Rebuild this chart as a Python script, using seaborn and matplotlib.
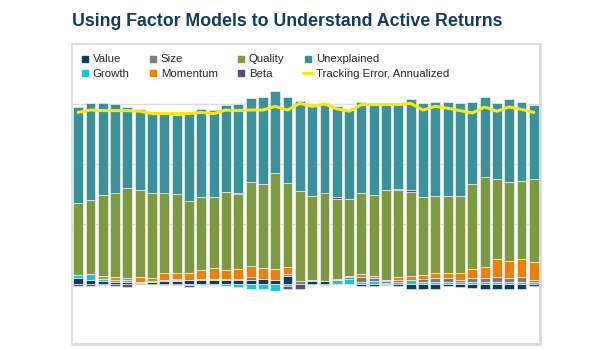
import numpy as np
import pandas as pd
import matplotlib
matplotlib.use("Agg")
import matplotlib.pyplot as plt
from matplotlib.lines import Line2D
import seaborn as sns

# Contribution of each factor to active risk, one value per period
periods = list(range(38))
value = [0.10, 0.07, 0.05, 0.035, 0.04, 0.02, 0.03, 0.045, 0.05, 0.06,
         0.06, 0.06, 0.06, 0.06, 0.07, 0.08, 0.07, 0.14, 0.00, 0.05,
         0.05, 0.00, 0.00, -0.04, -0.025, -0.01, -0.04, -0.08, -0.09, -0.08,
         -0.04, -0.055, -0.065, -0.09, -0.08, -0.08, -0.08, -0.03]
growth = [0.055, 0.09, 0.035, 0.04, 0.035, 0.02, 0.02, 0.01, 0.01, -0.02,
          -0.02, -0.015, -0.03, -0.055, -0.08, -0.09, -0.12, -0.03, 0.00, 0.025,
          0.00, 0.06, 0.08, 0.035, 0.045, 0.02, 0.035, 0.07, 0.03, 0.035,
          0.035, 0.035, 0.035, 0.035, 0.035, 0.035, 0.035, 0.03]
size = [0.0, 0.0, 0.0, 0.0, 0.0, 0.0, 0.0, 0.02, 0.02, 0.01,
        0.02, 0.03, 0.03, 0.02, 0.055, 0.0, 0.0, 0.02, 0.055, 0.0,
        0.0, 0.0, 0.035, 0.09, 0.055, 0.03, 0.04, 0.0, 0.055, 0.065,
        0.065, 0.04, 0.065, 0.065, 0.09, 0.065, 0.09, 0.045]
momentum = [0.0, 0.0, 0.045, 0.045, 0.03, 0.07, 0.05, 0.11, 0.11, 0.12,
            0.155, 0.18, 0.15, 0.165, 0.18, 0.19, 0.18, 0.12, 0.0, 0.0,
            0.0, 0.02, 0.02, 0.045, 0.04, 0.02, 0.045, 0.07, 0.07, 0.08,
            0.08, 0.11, 0.15, 0.18, 0.29, 0.29, 0.29, 0.30]
quality = [1.19, 1.24, 1.36, 1.40, 1.50, 1.45, 1.42, 1.33, 1.31, 1.20,
           1.21, 1.18, 1.30, 1.25, 1.39, 1.40, 1.60, 1.40, 1.50, 1.40,
           1.47, 1.34, 1.28, 1.35, 1.34, 1.50, 1.44, 1.40, 1.29, 1.29,
           1.29, 1.29, 1.41, 1.50, 1.34, 1.31, 1.30, 1.37]
beta = [-0.03, -0.03, -0.01, -0.03, -0.05, 0.0, 0.0, -0.02, -0.02, -0.03,
        0.0, 0.0, 0.0, 0.02, 0.0, 0.0, 0.0, -0.06, -0.08, 0.0,
        -0.02, 0.03, 0.0, 0.0, 0.0, 0.0, 0.03, 0.03, 0.0, 0.0,
        0.0, 0.0, 0.0, 0.0, 0.0, 0.0, 0.0, 0.0]
unexplained = [1.60, 1.61, 1.52, 1.48, 1.35, 1.36, 1.34, 1.34, 1.32, 1.46,
               1.48, 1.45, 1.45, 1.49, 1.40, 1.44, 1.37, 1.44, 1.50, 1.53,
               1.49, 1.51, 1.48, 1.52, 1.54, 1.44, 1.43, 1.51, 1.57, 1.57,
               1.56, 1.54, 1.38, 1.34, 1.26, 1.38, 1.32, 1.24]
tracking_error = [2.86, 2.90, 2.89, 2.89, 2.89, 2.88, 2.84, 2.84, 2.84, 2.84,
                  2.86, 2.84, 2.90, 2.89, 2.90, 2.90, 2.96, 2.90, 3.01, 2.96,
                  3.00, 2.92, 2.88, 2.99, 2.99, 2.99, 2.99, 3.01, 2.90, 2.96,
                  2.93, 2.89, 2.85, 2.95, 2.88, 2.95, 2.91, 2.86]

factor_names = ["Value", "Growth", "Size", "Momentum", "Quality", "Beta", "Unexplained"]
factor_values = [value, growth, size, momentum, quality, beta, unexplained]
factor_colors = ["#0c3c5e", "#1cc2df", "#7b7b7b", "#e8800a", "#7d9a42", "#5b4a7e", "#3a9199"]
te_color = "#fde60c"

sns.set_style("white")
plt.rcParams["font.family"] = ["Liberation Sans", "DejaVu Sans"]

fig = plt.figure(figsize=(6.12, 3.49), dpi=100)
ax = fig.add_axes([72 / 612, 1 - 344 / 349, 468 / 612, 300 / 349])

# Stack positive contributions upward and negative ones downward from zero
pos_base = np.zeros(len(periods))
neg_base = np.zeros(len(periods))
for name, vals, col in zip(factor_names, factor_values, factor_colors):
    v = np.asarray(vals, dtype=float)
    bottom = np.where(v >= 0, pos_base, neg_base)
    sns.barplot(x=periods, y=v, bottom=bottom, color=col, width=0.8,
                edgecolor=(1, 1, 1, 0.55), linewidth=0.7, errorbar=None,
                saturation=1, ax=ax, zorder=2)
    pos_base += np.clip(v, 0, None)
    neg_base += np.clip(v, None, 0)

sns.lineplot(x=periods, y=tracking_error, color=te_color, linewidth=2.2,
             ax=ax, zorder=4)

ax.set_xlim(-0.5, len(periods) - 0.5)
ax.set_ylim(-1, 4)
ax.set_yticks([0, 1, 2, 3])
ax.yaxis.grid(True, color="#dcdcdc", linewidth=1.0, zorder=0)
ax.set_axisbelow(True)
ax.tick_params(left=False, bottom=False, labelleft=False, labelbottom=False)
ax.set_xlabel("")
ax.set_ylabel("")
for side, sp in ax.spines.items():
    sp.set_visible(True)
    sp.set_color("#d9d9d9")
    sp.set_linewidth(2.0 if side in ("right", "bottom") else 1.2)

handles = []
for name, col in zip(factor_names, factor_colors):
    handles.append(Line2D([], [], linestyle="none", marker="s", markersize=4.2,
                          markerfacecolor=col, markeredgecolor=col, label=name))
handles.append(Line2D([], [], color=te_color, linewidth=2.2,
                      label="Tracking Error, Annualized"))
ax.legend(handles=handles, ncol=4, loc="upper left",
          bbox_to_anchor=(0.0165, 0.965), frameon=False, fontsize=8.2,
          borderpad=0, borderaxespad=0, handlelength=0.93,
          handletextpad=0.21, columnspacing=1.6, labelspacing=0.38)

fig.text(72 / 612, 1 - 26 / 349, "Using Factor Models to Understand Active Returns",
         fontsize=12.8, fontweight="bold", color="#103c64", va="baseline", ha="left")

fig.savefig("out.png", dpi=100, facecolor="white")
